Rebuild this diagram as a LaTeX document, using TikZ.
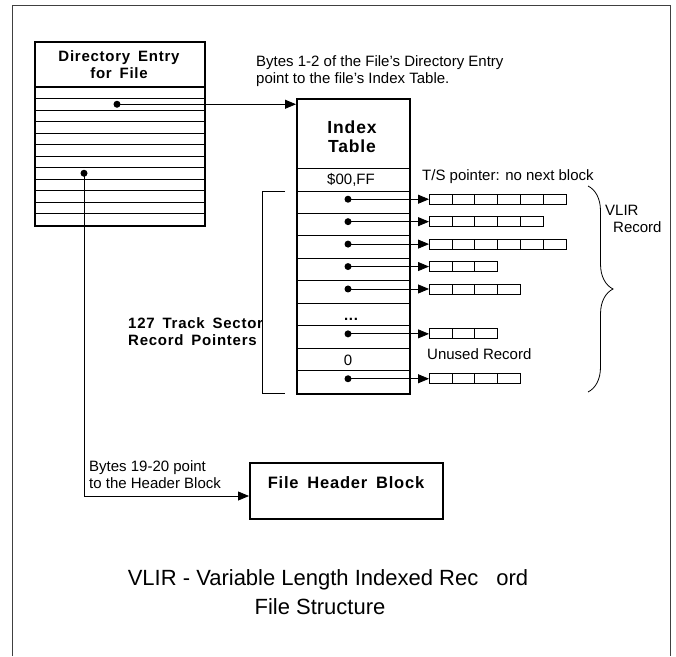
\documentclass[tikz,border=0pt]{standalone}
\usepackage{fontspec}
\setmainfont{Liberation Sans}
\newfontfamily\bfl[LetterSpace=5,WordSpace=1.6]{Liberation Sans}
\usetikzlibrary{arrows.meta,decorations.pathreplacing,calc}
\begin{document}
\begin{tikzpicture}[x=1pt,y=-1pt,
  thickline/.style={line width=1.8pt},
  thinline/.style={line width=0.8pt},
  dot/.style={circle,fill=black,inner sep=0pt,minimum size=7pt},
  ptr/.style={line width=0.8pt,-{Triangle[length=11pt,width=9pt]}},
  cell/.style={draw,line width=0.8pt,minimum width=22.9pt,minimum height=10pt,inner sep=0pt,outer sep=0pt},
  reg/.style={font=\fontsize{15}{16.5}\selectfont,inner sep=0pt},
  boldlbl/.style={font=\bfl\bfseries\fontsize{15}{17}\selectfont,inner sep=0pt},
  capt/.style={font=\fontsize{22}{26}\selectfont,inner sep=0pt}
]
\useasboundingbox (0,0) rectangle (676,656);
\fill[white] (0,0) rectangle (676,656);
\draw[line width=1pt,black!75] (12,656) -- (12,5) -- (670,5) -- (670,656);

% Directory entry
\node[draw,thickline,minimum width=170pt,minimum height=184pt,anchor=north west,inner sep=0pt] (dir) at (34,41) {};
\node[boldlbl,align=center] (dirtitle) at (119,64.5) {Directory Entry\\for File};
\draw[line width=1.1pt] (34,87) -- (204,87);
\foreach \k in {1,...,11} \draw[thinline] (34,{87+11.5*\k}) -- (204,{87+11.5*\k});
\node[dot] (d1) at (117,104.25) {};
\node[dot] (d2) at (84,173.25) {};

% Index table
\node[draw,thickline,minimum width=113pt,minimum height=295pt,anchor=north west,inner sep=0pt] (itab) at (296,98) {};
\node[font=\bfl\bfseries\fontsize{17.5}{19.5}\selectfont,align=center,inner sep=0pt] (ititle) at (352,136.5) {Index\\Table};
\draw[thinline] (296,168) -- (409,168);
\foreach \k in {0,...,8} \draw[thinline] (296,{191+22.44*\k}) -- (409,{191+22.44*\k});
\node[reg] (ff) at (351,180) {\$00,FF};
\node[font=\bfl\bfseries\fontsize{15}{17}\selectfont,inner sep=0pt,anchor=base] (ell) at (351,320) {...};
\node[reg] (zero) at (348,360) {0};

\draw[ptr] (d1.center) -- (d1.center -| itab.west);

\foreach \k/\n in {1/6,2/5,3/6,4/3,5/4,7/3,9/4} {
  \pgfmathsetmacro\yy{191+22.44*(\k-0.5)-3}
  \node[dot] (p\k) at (348,\yy) {};
  \foreach \c in {1,...,\n} \node[cell,anchor=west] (r\k c\c) at ({429+22.9*(\c-1)},\yy) {};
  \draw[ptr] (p\k.center) -- (r\k c1.west);
}

% bracket
\draw[thinline] (285,191) -- (262,191) -- (262,393) -- (285,393);
\node[boldlbl,anchor=west,align=left] (cnt) at (128,331.5) {127 Track Sector\\Record Pointers};

% header block
\node[draw,thickline,minimum width=193pt,minimum height=56pt,anchor=north west,inner sep=0pt] (hdr) at (249,462) {};
\node[font=\bfl\bfseries\fontsize{16.5}{19}\selectfont,inner sep=0pt] (hdrtitle) at (346,483) {File Header Block};
\coordinate (hin) at (249,496);
\draw[ptr] (d2.center) |- (hin);

% texts
\node[reg,anchor=west,align=left] (t12) at (256,71) {Bytes 1-2 of the File's Directory Entry\\point to the file's Index Table.};
\node[reg,anchor=west] (ts) at (422,177) {T/S pointer: no next block};
\node[reg,anchor=west] (unused) at (427,354) {Unused Record};
\node[reg,anchor=west,align=left] (t1920) at (89,474.5) {Bytes 19-20 point\\to the Header Block};
\node[reg,anchor=west] (vl) at (605,210) {VLIR};
\node[reg,anchor=west] (vr) at (613,227) {Record};
\draw[thinline,decorate,decoration={brace,amplitude=25pt,aspect=0.5}] (588,186) -- (588,392);

% caption
\node[capt] (cap1) at (328,580) {VLIR - Variable Length Indexed Rec\hspace{18pt}ord};
\node[capt] (cap2) at (320,607) {File Structure};
\end{tikzpicture}
\end{document}
